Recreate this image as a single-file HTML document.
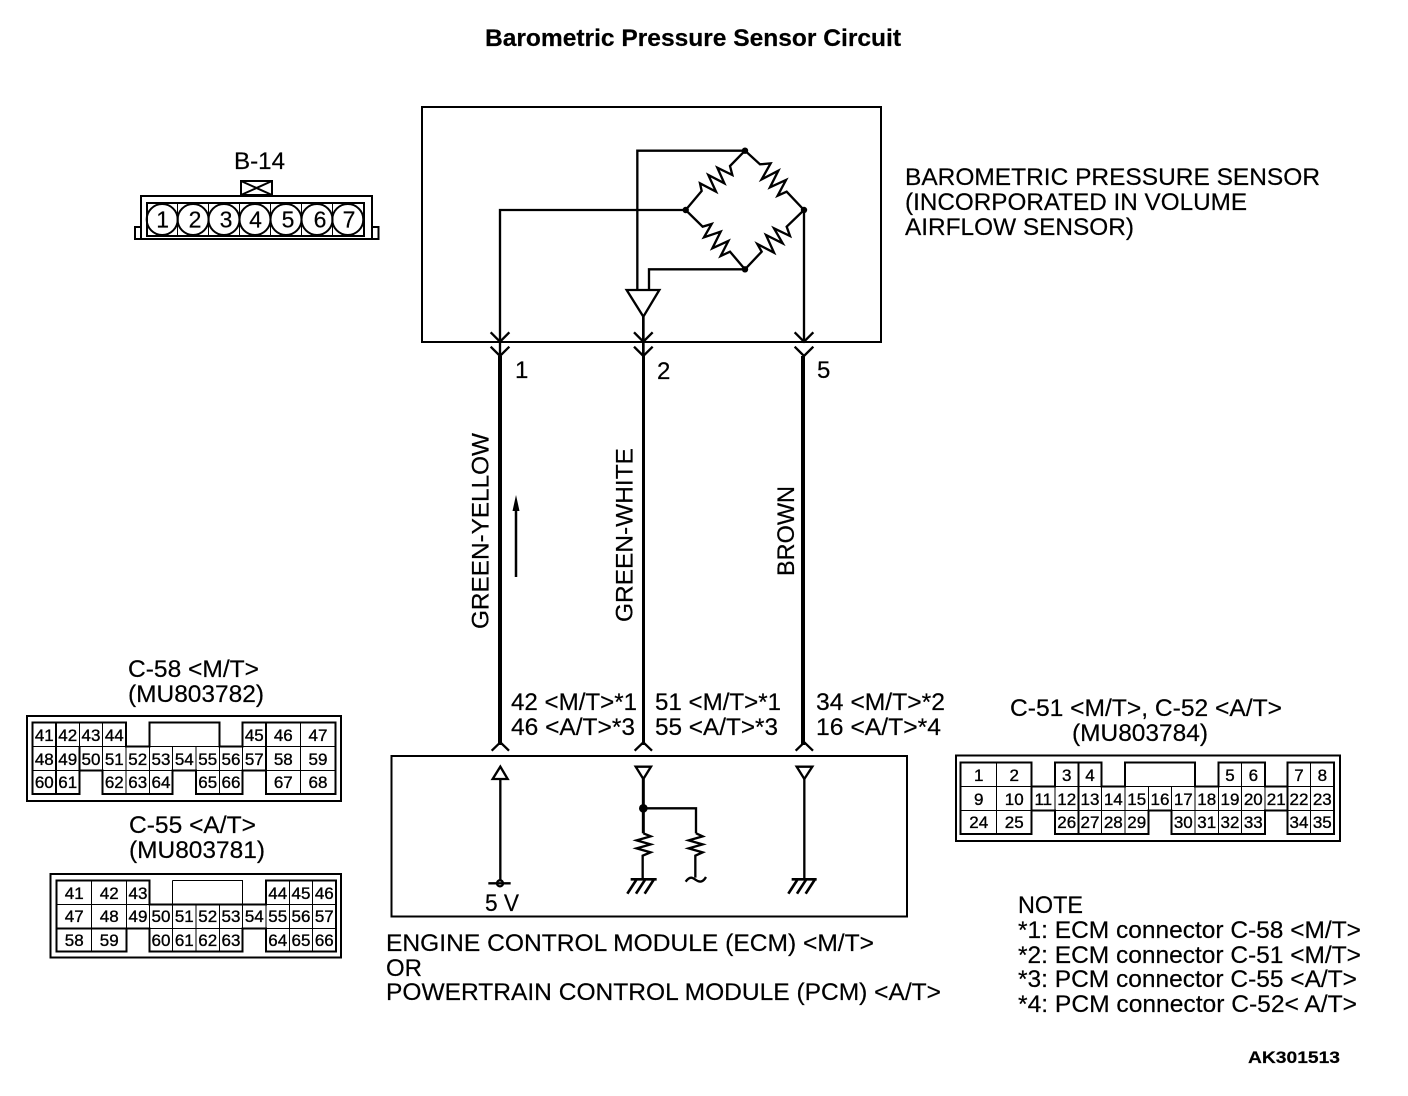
<!DOCTYPE html>
<html><head><meta charset="utf-8"><title>Barometric Pressure Sensor Circuit</title>
<style>
html,body{margin:0;padding:0;background:#fff}
svg{display:block}
text{font-family:"Liberation Sans",sans-serif;fill:#000;stroke:#000;stroke-width:.2px}
.t{font-size:24px}
.c text{font-size:17px;text-anchor:middle;stroke-width:.35px}
.d text{font-size:23px;text-anchor:middle}
.l{fill:none;stroke:#000}
.g{shape-rendering:crispEdges}
</style></head><body>
<svg width="1408" height="1096" viewBox="0 0 1408 1096" xmlns="http://www.w3.org/2000/svg">
<rect width="1408" height="1096" fill="#fff"/>
<text x="485" y="46" font-size="24" font-weight="bold" textLength="416" lengthAdjust="spacingAndGlyphs">Barometric Pressure Sensor Circuit</text>

<!-- boxes -->
<rect x="422" y="107" width="459" height="235" class="l" stroke-width="2"/>
<rect x="391.5" y="756" width="515.5" height="160.5" class="l" stroke-width="2"/>

<!-- sensor internals -->
<g class="l" stroke-width="7" stroke-linejoin="miter" transform="translate(480 130) scale(.33333)">
<path d="M60 680V240H617M472 480V62H795M507 480V418H795M972 240V635"/>
<path d="M440 480H538L490 560Z"/>
<path d="M795 62L750 108L757 135L712 113L733 160L685 135L708 185L660 160L665 183L617 240"/>
<path d="M795 62L840 103L872 100L845 148L895 122L870 172L918 150L893 197L920 185L972 240"/>
<path d="M617 240L668 290L695 282L672 322L722 305L697 355L745 333L722 378L750 365L795 418"/>
<path d="M795 418L845 365L832 342L882 368L858 315L908 340L882 295L930 318L920 290L972 240"/>
<path d="M32 607L60 635L88 607M32 650L60 678L88 650M462 607L490 635L518 607M462 650L490 678L518 650M944 607L972 635L1000 607M944 650L972 678L1000 650"/>
<path d="M490 560V680" stroke-width="8"/>
</g>
<g fill="#000"><circle cx="745" cy="150.7" r="3.2"/><circle cx="685.7" cy="210" r="3.2"/><circle cx="804" cy="210" r="3.2"/><circle cx="745" cy="269.3" r="3.2"/></g>

<!-- harness wires -->
<path d="M500 356V745" class="l" stroke-width="4"/>
<path d="M643.500 356V745" class="l" stroke-width="3"/>
<path d="M803 356V745" class="l" stroke-width="4"/>
<path d="M516 577V505" class="l" stroke-width="2.500"/>
<path d="M516 495L519.500 511H512.500Z" fill="#000"/>

<!-- ECM internals -->
<g class="l" stroke-width="7" transform="translate(470 735) scale(.33333)">
<path d="M65 47L91 22L117 47M494 47L520 22L546 47M977 47L1003 22L1029 47"/>
<path d="M91 95L68 132H113Z"/><path d="M91 132V435"/>
<path d="M55 445H122"/><circle cx="90" cy="445" r="9"/>
<path d="M497 95H543L520 132Z"/><path d="M520 132V295" stroke-width="9"/>
<path d="M520 220H678V295"/>
<circle cx="520" cy="220" r="13" fill="#000" stroke="none"/>
<path d="M520 295L542 304L500 316L542 328L500 340L542 352L518 362V432" />
<path d="M678 295L698 304L656 316L698 328L656 340L698 352L676 362V428"/>
<path d="M647 440C660 422 668 428 678 435C690 444 700 440 708 426"/>
<path d="M482 433H560M500 433L472 476M526 433L498 476M552 433L524 476" stroke-width="8"/>
<path d="M980 95H1027L1003 132Z"/><path d="M1003 132V432"/>
<path d="M965 433H1040M983 433L955 476M1009 433L981 476M1035 433L1007 476" stroke-width="8"/>
</g>

<!-- pin numbers and wire labels -->
<text class="t" x="515" y="378">1</text>
<text class="t" x="657" y="379">2</text>
<text class="t" x="817" y="378">5</text>
<text class="t" transform="translate(488.500 629) rotate(-90)" textLength="196" lengthAdjust="spacingAndGlyphs">GREEN-YELLOW</text>
<text class="t" transform="translate(632.700 622) rotate(-90)" textLength="174" lengthAdjust="spacingAndGlyphs">GREEN-WHITE</text>
<text class="t" transform="translate(794 576) rotate(-90)" textLength="90" lengthAdjust="spacingAndGlyphs">BROWN</text>

<text class="t" x="905" y="185" textLength="415" lengthAdjust="spacingAndGlyphs">BAROMETRIC PRESSURE SENSOR</text>
<text class="t" x="905" y="210" textLength="342" lengthAdjust="spacingAndGlyphs">(INCORPORATED IN VOLUME</text>
<text class="t" x="905" y="235" textLength="229" lengthAdjust="spacingAndGlyphs">AIRFLOW SENSOR)</text>

<text class="t" x="511" y="710" textLength="126" lengthAdjust="spacingAndGlyphs">42 &lt;M/T&gt;*1</text>
<text class="t" x="511" y="735" textLength="124" lengthAdjust="spacingAndGlyphs">46 &lt;A/T&gt;*3</text>
<text class="t" x="655" y="710" textLength="126" lengthAdjust="spacingAndGlyphs">51 &lt;M/T&gt;*1</text>
<text class="t" x="655" y="735" textLength="123" lengthAdjust="spacingAndGlyphs">55 &lt;A/T&gt;*3</text>
<text class="t" x="816" y="710" textLength="129" lengthAdjust="spacingAndGlyphs">34 &lt;M/T&gt;*2</text>
<text class="t" x="816" y="735" textLength="125" lengthAdjust="spacingAndGlyphs">16 &lt;A/T&gt;*4</text>

<text class="t" x="128" y="677" textLength="131" lengthAdjust="spacingAndGlyphs">C-58 &lt;M/T&gt;</text>
<text class="t" x="128" y="702" textLength="136" lengthAdjust="spacingAndGlyphs">(MU803782)</text>
<text class="t" x="129" y="833" textLength="127" lengthAdjust="spacingAndGlyphs">C-55 &lt;A/T&gt;</text>
<text class="t" x="129" y="858" textLength="136" lengthAdjust="spacingAndGlyphs">(MU803781)</text>
<text class="t" x="1010" y="716" textLength="272" lengthAdjust="spacingAndGlyphs">C-51 &lt;M/T&gt;, C-52 &lt;A/T&gt;</text>
<text class="t" x="1072" y="741" textLength="136" lengthAdjust="spacingAndGlyphs">(MU803784)</text>

<text class="t" x="485" y="911" textLength="34" lengthAdjust="spacingAndGlyphs">5 V</text>
<text class="t" x="386" y="951" textLength="488" lengthAdjust="spacingAndGlyphs">ENGINE CONTROL MODULE (ECM) &lt;M/T&gt;</text>
<text class="t" x="386" y="976" textLength="36" lengthAdjust="spacingAndGlyphs">OR</text>
<text class="t" x="386" y="1000" textLength="555" lengthAdjust="spacingAndGlyphs">POWERTRAIN CONTROL MODULE (PCM) &lt;A/T&gt;</text>

<text class="t" x="1018" y="913" textLength="65" lengthAdjust="spacingAndGlyphs">NOTE</text>
<text class="t" x="1018" y="938" textLength="343" lengthAdjust="spacingAndGlyphs">*1: ECM connector C-58 &lt;M/T&gt;</text>
<text class="t" x="1018" y="963" textLength="343" lengthAdjust="spacingAndGlyphs">*2: ECM connector C-51 &lt;M/T&gt;</text>
<text class="t" x="1018" y="987" textLength="339" lengthAdjust="spacingAndGlyphs">*3: PCM connector C-55 &lt;A/T&gt;</text>
<text class="t" x="1018" y="1012" textLength="339" lengthAdjust="spacingAndGlyphs">*4: PCM connector C-52&lt; A/T&gt;</text>
<text x="1248" y="1063" font-size="17" font-weight="bold" textLength="92" lengthAdjust="spacingAndGlyphs">AK301513</text>

<!-- B-14 -->
<text class="t" x="234" y="169" textLength="51" lengthAdjust="spacingAndGlyphs">B-14</text>
<g class="l" stroke-width="2">
<path d="M241 181H272V195H241ZM241 181L272 195M272 181L241 195"/>
<rect x="141" y="196" width="231" height="43"/>
<path d="M141 227H135V239H141M372 227H378.500V239H372"/>
<rect x="147" y="203" width="217" height="33"/>
<path stroke-width="1" d="M177.500 203V236M208.500 203V236M239.500 203V236M270.500 203V236M301.500 203V236M332.500 203V236"/>
<circle cx="162.200" cy="219.500" r="15.500"/><circle cx="193.100" cy="219.500" r="15.500"/><circle cx="224" cy="219.500" r="15.500"/><circle cx="255" cy="219.500" r="15.500"/><circle cx="286" cy="219.500" r="15.500"/><circle cx="317" cy="219.500" r="15.500"/><circle cx="347.800" cy="219.500" r="15.500"/>
</g>
<g class="d">
<text x="162.700" y="227.500">1</text><text x="195" y="227.500">2</text><text x="226" y="227.500">3</text><text x="255.500" y="227.500">4</text><text x="288" y="227.500">5</text><text x="320" y="227.500">6</text><text x="349" y="227.500">7</text>
</g>

<!-- C-58 -->
<g class="l g">
<rect x="27" y="716" width="314" height="85" stroke-width="2"/>
<path stroke-width="1" d="M32.700 746.700H335.300M32.700 770.700H335.300M79.300 722.700V794M102.700 722.700V794M126 746.700V794M149.300 746.700V794M172.700 746.700V770.700M196 746.700V794M219.300 746.700V794M242.700 746.700V770.700M300.700 722.700V794"/>
<path stroke-width="2" d="M32.700 722.700H126V746.700H149.300V722.700H219.300V746.700H242.700V722.700H335.300V794H266V770.700H242.700V794H196V770.700H172.700V794H102.700V770.700H79.300V794H32.700ZM56 722.700V794M266 722.700V794M79.300 770.700V746.700"/>
</g>
<g class="c">
<text x="44.300" y="741">41</text><text x="67.700" y="741">42</text><text x="91" y="741">43</text><text x="114.300" y="741">44</text><text x="254.300" y="741">45</text><text x="283.300" y="741">46</text><text x="318" y="741">47</text>
<text x="44.300" y="765">48</text><text x="67.700" y="765">49</text><text x="91" y="765">50</text><text x="114.300" y="765">51</text><text x="137.700" y="765">52</text><text x="161" y="765">53</text><text x="184.300" y="765">54</text><text x="207.700" y="765">55</text><text x="231" y="765">56</text><text x="254.300" y="765">57</text><text x="283.300" y="765">58</text><text x="318" y="765">59</text>
<text x="44.300" y="788">60</text><text x="67.700" y="788">61</text><text x="114.300" y="788">62</text><text x="137.700" y="788">63</text><text x="161" y="788">64</text><text x="207.700" y="788">65</text><text x="231" y="788">66</text><text x="283.300" y="788">67</text><text x="318" y="788">68</text>
</g>

<!-- C-55 -->
<g class="l g">
<rect x="50.500" y="874" width="290.500" height="83.500" stroke-width="2"/>
<path stroke-width="1" d="M56.700 904.300H336M56.700 928.300H336M91.700 880.700V951.700M126.700 880.700V928.300M149.300 880.700V951.700M172.700 880.700V951.700M196 904.300V951.700M219.300 904.300V951.700M242.700 904.300V928.300M266 880.700V951.700M289.300 880.700V951.700M312.700 880.700V951.700"/>
<path stroke-width="1" d="M172.700 880.700H242.700V904.300"/>
<path stroke-width="2" d="M56.700 880.700H149.300V904.300H266V880.700H336V951.700H266V928.300H242.700V951.700H149.300V928.300H126.700V951.700H56.700Z"/>
<path stroke-width="2" d="M56.700 928.300H126.700"/>
</g>
<g class="c">
<text x="74.200" y="899">41</text><text x="109.200" y="899">42</text><text x="138" y="899">43</text><text x="277.700" y="899">44</text><text x="301" y="899">45</text><text x="324.300" y="899">46</text>
<text x="74.200" y="922">47</text><text x="109.200" y="922">48</text><text x="138" y="922">49</text><text x="161" y="922">50</text><text x="184.300" y="922">51</text><text x="207.700" y="922">52</text><text x="231" y="922">53</text><text x="254.300" y="922">54</text><text x="277.700" y="922">55</text><text x="301" y="922">56</text><text x="324.300" y="922">57</text>
<text x="74.200" y="946">58</text><text x="109.200" y="946">59</text><text x="161" y="946">60</text><text x="184.300" y="946">61</text><text x="207.700" y="946">62</text><text x="231" y="946">63</text><text x="277.700" y="946">64</text><text x="301" y="946">65</text><text x="324.300" y="946">66</text>
</g>

<!-- C-51 -->
<g class="l g">
<rect x="956" y="755.500" width="384" height="85.500" stroke-width="2"/>
<path stroke-width="1" d="M960.700 786.700H1334M960.700 810.700H1334M996.700 762.700V834M1055 786.700V810.700M1101.700 786.700V834M1125 786.700V834M1148.300 786.700V810.700M1171.700 786.700V810.700M1195 786.700V834M1218.300 786.700V834M1241.700 762.700V834M1265 786.700V810.700M1310.700 762.700V834"/>
<path stroke-width="1" d="M1125 762.700H1195V786.700"/>
<path stroke-width="2" d="M960.700 762.700H1031.700V786.700H1055V762.700H1101.700V786.700H1125V762.700H1195V786.700H1218.300V762.700H1265V786.700H1287.300V762.700H1334V834H1287.300V810.700H1265V834H1171.700V810.700H1148.300V834H1055V810.700H1031.700V834H960.700Z"/>
<path stroke-width="2" d="M1078.300 762.700V834M1287.300 786.700V810.700M1031.700 786.700V810.700"/>
</g>
<g class="c">
<text x="978.700" y="781">1</text><text x="1014.200" y="781">2</text><text x="1066.700" y="781">3</text><text x="1090" y="781">4</text><text x="1230" y="781">5</text><text x="1253.300" y="781">6</text><text x="1299" y="781">7</text><text x="1322.300" y="781">8</text>
<text x="978.700" y="805">9</text><text x="1014.200" y="805">10</text><text x="1043.300" y="805">11</text><text x="1066.700" y="805">12</text><text x="1090" y="805">13</text><text x="1113.300" y="805">14</text><text x="1136.700" y="805">15</text><text x="1160" y="805">16</text><text x="1183.300" y="805">17</text><text x="1206.700" y="805">18</text><text x="1230" y="805">19</text><text x="1253.300" y="805">20</text><text x="1276.200" y="805">21</text><text x="1299" y="805">22</text><text x="1322.300" y="805">23</text>
<text x="978.700" y="828">24</text><text x="1014.200" y="828">25</text><text x="1066.700" y="828">26</text><text x="1090" y="828">27</text><text x="1113.300" y="828">28</text><text x="1136.700" y="828">29</text><text x="1183.300" y="828">30</text><text x="1206.700" y="828">31</text><text x="1230" y="828">32</text><text x="1253.300" y="828">33</text><text x="1299" y="828">34</text><text x="1322.300" y="828">35</text>
</g>
</svg>
</body></html>
